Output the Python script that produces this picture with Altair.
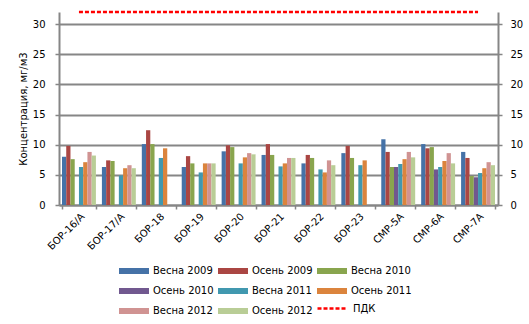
import altair as alt
import pandas as pd

categories = ["БОР-16/А", "БОР-17/А", "БОР-18", "БОР-19", "БОР-20", "БОР-21",
              "БОР-22", "БОР-23", "СМР-5А", "СМР-6А", "СМР-7А"]
series_names = ["Весна 2009", "Осень 2009", "Весна 2010", "Осень 2010",
                "Весна 2011", "Осень 2011", "Весна 2012", "Осень 2012"]
series_colors = ["#4572A7", "#AA4643", "#89A54E", "#71588F",
                 "#4198AF", "#DB843D", "#D09392", "#B9CD96"]

vesna_2009 = [8.0, 6.3, 10.1, 6.3, 8.9, 8.3, 6.9, 8.6, 10.9, 10.1, 8.8]
osen_2009 = [9.8, 7.4, 12.4, 8.1, 9.9, 10.1, 8.3, 9.8, 8.8, 9.4, 7.8]
vesna_2010 = [7.6, 7.3, 10.1, 6.9, 9.6, 8.3, 7.8, 7.8, 6.3, 9.6, 4.8]
osen_2010 = [None, None, None, None, None, None, None, None, 6.3, 5.9, 4.6]
vesna_2011 = [6.3, 4.9, 7.8, 5.4, 6.9, 6.4, 5.9, 6.6, 6.8, 6.3, 5.3]
osen_2011 = [7.1, 6.1, 9.4, 6.9, 7.9, 6.9, 5.4, 7.4, 7.6, 7.3, 6.1]
vesna_2012 = [8.8, 6.6, None, 6.9, 8.6, 7.8, 7.4, None, 8.8, 8.6, 7.1]
osen_2012 = [8.2, 6.1, None, 6.9, 8.4, 7.8, 6.6, None, 7.9, 6.9, 6.6]
pdk_values = [32] * len(categories)

all_series = [vesna_2009, osen_2009, vesna_2010, osen_2010,
              vesna_2011, osen_2011, vesna_2012, osen_2012]

rows = []
for name, vals in zip(series_names, all_series):
    for cat, v in zip(categories, vals):
        if v is not None:
            rows.append({"category": cat, "series": name, "value": v})
bars_df = pd.DataFrame(rows)
pdk_df = pd.DataFrame({"category": categories, "value": pdk_values,
                       "series": ["ПДК"] * len(categories)})

FONT = "DejaVu Sans"
GRAY = "#868686"

x_enc = alt.X(
    "category:N", sort=categories,
    scale=alt.Scale(paddingInner=0.15, paddingOuter=0.075),
    axis=alt.Axis(title=None, labelAngle=-45, tickBand="extent",
                  domainColor=GRAY, domainWidth=2, tickColor=GRAY,
                  tickWidth=1.5, tickSize=4, labelPadding=2,
                  labelFont=FONT, labelFontSize=10, labelColor="black",
                  grid=False),
)

y_scale = alt.Scale(domain=[0, 32], nice=False)

bars = alt.Chart(bars_df).mark_bar().encode(
    x=x_enc,
    xOffset=alt.XOffset("series:N", sort=series_names,
                        scale=alt.Scale(domain=series_names, paddingInner=0, paddingOuter=0)),
    y=alt.Y("value:Q", scale=y_scale,
            axis=alt.Axis(title="Концентрация, мг/м3", values=[0, 5, 10, 15, 20, 25, 30],
                          orient="left", grid=True, gridColor=GRAY, gridWidth=2,
                          domainColor=GRAY, domainWidth=2, tickColor=GRAY,
                          tickWidth=1.5, tickSize=4, labelPadding=10,
                          labelFont=FONT, labelFontSize=10, labelColor="black",
                          titleFont=FONT, titleFontSize=10, titleFontWeight="normal",
                          titleColor="black", titlePadding=4)),
    color=alt.Color("series:N",
                    scale=alt.Scale(domain=series_names, range=series_colors),
                    legend=alt.Legend(orient="none", legendX=60, legendY=244,
                                      columns=3, direction="horizontal", title=None,
                                      symbolType="M-1,-0.2H1V0.2H-1Z",
                                      symbolSize=900, symbolStrokeWidth=0,
                                      symbolOpacity=1,
                                      labelFont=FONT, labelFontSize=10,
                                      labelColor="black", labelOffset=4,
                                      rowPadding=-5, columnPadding=4,
                                      gridAlign="all")),
)

line = alt.Chart(pdk_df).mark_line(strokeWidth=2.5, strokeDash=[4, 2]).encode(
    x=alt.X("category:N", sort=categories),
    y=alt.Y("value:Q", scale=y_scale,
            axis=alt.Axis(title=None, values=[0, 5, 10, 15, 20, 25, 30],
                          orient="right", grid=False,
                          domainColor=GRAY, domainWidth=2, tickColor=GRAY,
                          tickWidth=1.5, tickSize=4, labelPadding=8,
                          labelFont=FONT, labelFontSize=10, labelColor="black")),
    stroke=alt.Stroke("series:N",
                      scale=alt.Scale(domain=["ПДК"], range=["#FF0000"]),
                      legend=alt.Legend(orient="none", legendX=257, legendY=280,
                                        title=None, symbolType="stroke",
                                        symbolSize=900, symbolStrokeWidth=2.5,
                                        symbolDash=[4, 2],
                                        labelFont=FONT, labelFontSize=10,
                                        labelColor="black", labelOffset=4)),
)

chart = alt.layer(bars, line).resolve_axis(y="independent").properties(
    width=439, height=193,
    autosize=alt.AutoSizeParams(type="none"),
    padding={"left": 59, "top": 12, "right": 31, "bottom": 119},
    background="white",
).configure_view(stroke=None)

chart.save("out.html", embed_options={"renderer": "svg", "actions": False})
